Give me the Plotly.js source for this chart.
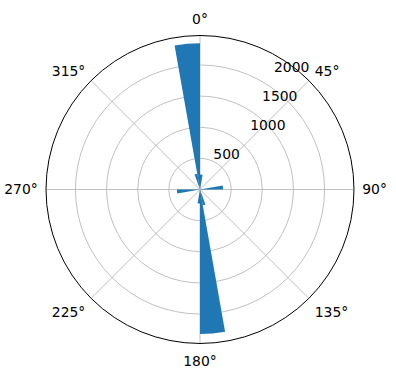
<!DOCTYPE html>
<html>
<head>
<meta charset="utf-8">
<script src="https://cdn.plot.ly/plotly-3.0.1.min.js"></script>
<style>html,body{margin:0;padding:0;background:#fff;}#chart{width:396px;height:380px;}</style>
</head>
<body>
<div id="chart"></div>
<script>
// direction bins (bar centres, degrees) and counts
const binCenters = [5, 85, 165, 175, 185, 265, 345, 355];
const counts = [240, 370, 255, 2320, 225, 370, 255, 2350];
const binWidth = [10, 10, 10, 10, 10, 10, 10, 10];
const angleTicks = [0, 45, 90, 135, 180, 225, 270, 315];
const angleLabels = ['0°', '45°', '90°', '135°', '180°', '225°', '270°', '315°'];
const radialTicks = [500, 1000, 1500, 2000];
const radialLabels = ['500', '1000', '1500', '2000'];
const rMax = 2473;

const trace = {
  type: 'barpolar',
  theta: binCenters,
  r: counts,
  width: binWidth,
  marker: {color: '#1f77b4', line: {width: 0}},
  hoverinfo: 'none',
  subplot: 'polar'
};
// empty traces carrying the (offset) radial tick label layers
const labelLayer = {type: 'barpolar', theta: [], r: [], subplot: 'polar2', hoverinfo: 'none'};
const labelLayerShort = {type: 'barpolar', theta: [], r: [], subplot: 'polar3', hoverinfo: 'none'};

const fontSpec = {family: 'DejaVu Sans', size: 13.9, color: '#000'};

function labelPolar(domainX, vals, texts) {
  return {
    domain: {x: domainX, y: [0.1277, 0.9382]},
    bgcolor: 'rgba(0,0,0,0)',
    angularaxis: {
      rotation: 90, direction: 'clockwise',
      showgrid: false, showline: false, showticklabels: false, ticks: ''
    },
    radialaxis: {
      range: [0, rMax],
      angle: 67.5,
      tickangle: 67.5,
      side: 'clockwise',
      tickmode: 'array',
      tickvals: vals,
      ticktext: texts,
      showgrid: false,
      showline: false,
      ticks: '',
      tickfont: fontSpec
    }
  };
}

const layout = {
  width: 396, height: 380,
  margin: {l: 0, r: 0, t: 0, b: 0},
  paper_bgcolor: '#ffffff',
  showlegend: false,
  font: fontSpec,
  polar: {
    domain: {x: [0.1162, 0.8939], y: [0.0961, 0.9066]},
    bgcolor: '#ffffff',
    bargap: 0,
    angularaxis: {
      rotation: 90,
      direction: 'clockwise',
      tickmode: 'array',
      tickvals: angleTicks,
      ticktext: angleLabels,
      ticks: 'outside',
      ticklen: 5,
      tickcolor: 'rgba(0,0,0,0)',
      showline: true,
      linecolor: '#000',
      linewidth: 1,
      gridcolor: '#b0b0b0',
      gridwidth: 0.8,
      tickfont: fontSpec
    },
    radialaxis: {
      range: [0, rMax],
      angle: 67.5,
      tickmode: 'array',
      tickvals: radialTicks,
      showticklabels: false,
      showline: false,
      ticks: '',
      gridcolor: '#b0b0b0',
      gridwidth: 0.8
    }
  },
  polar2: labelPolar([0.1654, 0.9431], radialTicks.slice(1), radialLabels.slice(1)),
  polar3: labelPolar([0.1023, 0.8800], radialTicks.slice(0, 1), radialLabels.slice(0, 1))
};

Plotly.newPlot('chart', [trace, labelLayer, labelLayerShort], layout, {staticPlot: true, displayModeBar: false});
</script>
</body>
</html>
